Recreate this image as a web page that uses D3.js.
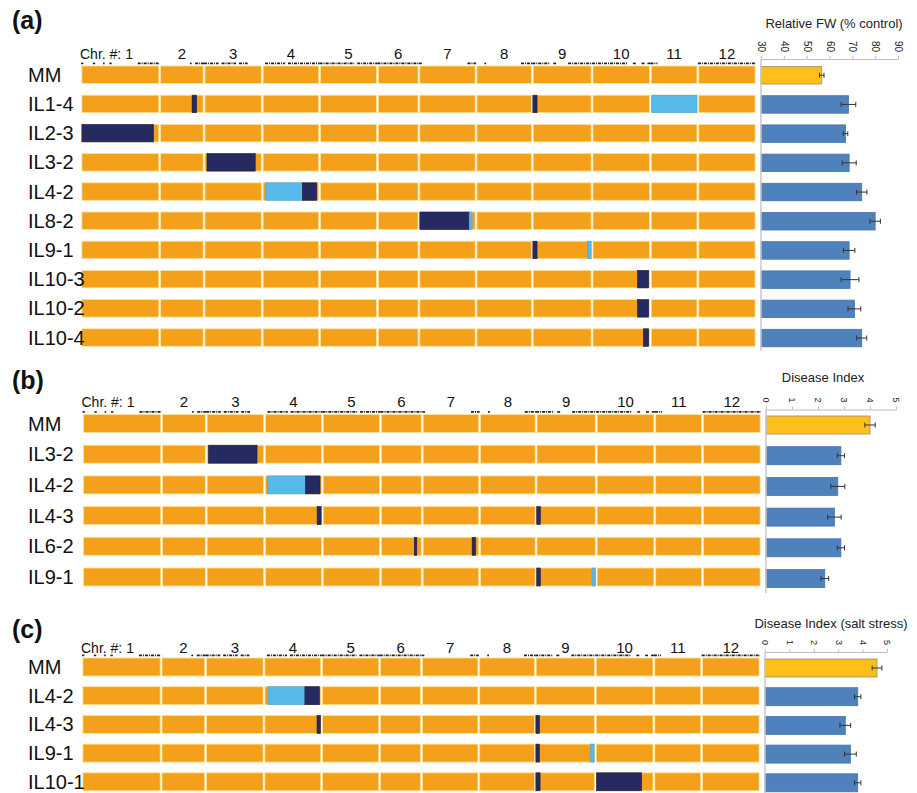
<!DOCTYPE html>
<html>
<head>
<meta charset="utf-8">
<script src="https://cdn.jsdelivr.net/npm/d3@7"></script>
<style>
  body { margin: 0; background: #fff; }
  svg { display: block; font-family: Arial, "Liberation Sans", sans-serif; }
</style>
</head>
<body>
<svg width="917" height="793"></svg>
<script>
  // chromosomes (relative lengths)
  const chrNames = ["1", "2", "3", "4", "5", "6", "7", "8", "9", "10", "11", "12"];
  const chrLengths = [79, 44.5, 58.3, 57.6, 58, 41.7, 57.3, 56.4, 60, 58.5, 47.7, 58.3];
  // marker coverage: [chr, from, to] as fraction of chromosome
  const markers = [
    [1, 0, 0.03], [1, 0.15, 0.18], [1, 0.28, 0.3], [1, 0.36, 0.39], [1, 0.72, 1],
    [2, 0.68, 0.72], [2, 0.8, 1],
    [3, 0, 0.25], [3, 0.3, 0.55], [3, 0.6, 0.75],
    [4, 0.05, 0.4], [4, 0.45, 1],
    [5, 0, 0.6], [5, 0.65, 1],
    [6, 0, 1],
    [7, 0, 0.05], [7, 0.85, 1],
    [8, 0.15, 0.18], [8, 0.8, 1],
    [9, 0, 0.3], [9, 0.35, 0.4], [9, 0.6, 1],
    [10, 0, 0.6], [10, 0.7, 0.75], [10, 0.85, 0.9], [10, 0.95, 1],
    [11, 0, 0.15],
    [12, 0, 1]
  ];

  // (a) relative fresh weight
  const linesA = ["MM", "IL1-4", "IL2-3", "IL3-2", "IL4-2", "IL8-2", "IL9-1", "IL10-3", "IL10-2", "IL10-4"];
  const fwMean = [56.6, 68.3, 67, 68.6, 74.1, 80, 68.6, 69, 70.9, 74.1];
  const fwErr = [1, 3.2, 1, 3.1, 2.3, 2.3, 2.5, 3.9, 2.8, 2.2];
  const fwTicks = [30, 40, 50, 60, 70, 80, 90];
  // introgressions: [chr, from, to, type] (d = dark, l = light)
  const segA = [
    [],
    [[2, 0.73, 0.83, "d"], [9, 0.01, 0.08, "d"], [11, 0.03, 1, "l"]],
    [[1, 0, 0.92, "d"]],
    [[3, 0.05, 0.88, "d"]],
    [[4, 0.06, 0.7, "l"], [4, 0.7, 0.95, "d"]],
    [[7, 0, 0.88, "d"], [7, 0.88, 0.93, "l"]],
    [[9, 0.01, 0.08, "d"], [9, 0.92, 1, "l"]],
    [[10, 0.78, 0.97, "d"]],
    [[10, 0.78, 0.97, "d"]],
    [[10, 0.88, 0.97, "d"]]
  ];

  // (b) disease index
  const linesB = ["MM", "IL3-2", "IL4-2", "IL4-3", "IL6-2", "IL9-1"];
  const diMean = [4.0, 2.88, 2.76, 2.63, 2.88, 2.26];
  const diErr = [0.2, 0.14, 0.27, 0.26, 0.14, 0.15];
  const diTicks = [0, 1, 2, 3, 4, 5];
  const segB = [
    [],
    [[3, 0.04, 0.87, "d"]],
    [[4, 0.05, 0.71, "l"], [4, 0.71, 0.96, "d"]],
    [[4, 0.91, 0.98, "d"], [9, 0.01, 0.07, "d"]],
    [[6, 0.81, 0.87, "d"], [7, 0.87, 0.93, "d"]],
    [[9, 0.01, 0.07, "d"], [9, 0.93, 0.99, "l"]]
  ];

  // (c) disease index under salt stress
  const linesC = ["MM", "IL4-2", "IL4-3", "IL9-1", "IL10-1"];
  const dsMean = [4.59, 3.8, 3.29, 3.5, 3.8];
  const dsErr = [0.2, 0.13, 0.22, 0.24, 0.13];
  const dsTicks = [0, 1, 2, 3, 4, 5];
  const segC = [
    [],
    [[4, 0.07, 0.71, "l"], [4, 0.71, 0.96, "d"]],
    [[4, 0.92, 0.98, "d"], [9, 0.01, 0.07, "d"]],
    [[9, 0.01, 0.07, "d"], [9, 0.92, 0.98, "l"]],
    [[9, 0.01, 0.08, "d"], [10, 0.02, 0.79, "d"]]
  ];

  const svg = d3.select("svg");
  const orange = "#F5A01A", navy = "#252B60", light = "#55B9E9";
  const chrStart = d3.cumsum([0, ...chrLengths]);
  const genome = d3.sum(chrLengths);

  function drawPanel(p) {
    const g = svg.append("g");
    const xs = d3.scaleLinear().domain([0, genome]).range(p.track);
    const pos = (c, f) => chrStart[c - 1] + f * chrLengths[c - 1];
    const rowY = i => p.top + i * p.pitch;

    g.append("text").attr("x", 12).attr("y", p.labelY)
      .attr("font-size", 25).attr("font-weight", "bold").attr("fill", "#111").text(p.tag);

    // chromosome numbers
    g.selectAll(".chrlab").data(chrNames).enter().append("text")
      .attr("x", (d, i) => i === 0 ? p.track[0] - 1 : xs(chrStart[i] + chrLengths[i] / 2))
      .attr("y", p.chrY)
      .attr("text-anchor", (d, i) => i === 0 ? "start" : "middle")
      .attr("font-size", (d, i) => i === 0 ? 14 : 15)
      .attr("fill", "#111")
      .text((d, i) => i === 0 ? "Chr. #: " + d : d);

    // marker coverage track
    g.selectAll(".mk").data(markers).enter().append("line")
      .attr("x1", d => xs(pos(d[0], d[1])))
      .attr("x2", d => Math.max(xs(pos(d[0], d[1])) + 1, xs(pos(d[0], d[2]))))
      .attr("y1", p.top - 2.6).attr("y2", p.top - 2.6)
      .attr("stroke", "#222").attr("stroke-width", 1.6)
      .attr("stroke-dasharray", "3,1,1,1");

    p.lines.forEach((name, i) => {
      const y = rowY(i);

      g.selectAll(null).data(chrLengths).enter().append("rect")
        .attr("x", (d, k) => xs(chrStart[k]) + 0.9)
        .attr("width", (d, k) => xs(chrStart[k + 1]) - xs(chrStart[k]) - 1.8)
        .attr("y", y).attr("height", p.barH)
        .attr("fill", orange).attr("stroke", "#FBE39A").attr("stroke-width", 0.8);

      g.selectAll(null).data(p.segs[i]).enter().append("rect")
        .attr("x", d => xs(pos(d[0], d[1])) + (d[1] === 0 ? 0.9 : 0))
        .attr("width", d => xs(pos(d[0], d[2])) - xs(pos(d[0], d[1])) - (d[1] === 0 ? 0.9 : 0) - (d[2] === 1 ? 0.9 : 0))
        .attr("y", y).attr("height", p.barH)
        .attr("fill", d => d[3] === "d" ? navy : light)
        .attr("stroke", d => d[3] === "d" ? "#1a1f45" : "#4aa8d6").attr("stroke-width", 0.6);

      g.append("text").attr("x", 28).attr("y", y + p.barH / 2 + 7)
        .attr("font-size", 20).attr("fill", "#111").text(name);
    });

    // bar chart
    const x = d3.scaleLinear().domain(p.domain).range(p.chart);
    const axis = g.append("g").attr("transform", `translate(0,${p.axisY})`)
      .call(d3.axisTop(x).tickValues(p.ticks).tickFormat(d3.format("d")).tickSize(3).tickSizeOuter(0));
    axis.select(".domain").attr("stroke", "#BFBFBF");
    axis.selectAll(".tick line").attr("stroke", "#BFBFBF");
    axis.selectAll(".tick text")
      .attr("font-family", "Arial, 'Liberation Sans', sans-serif")
      .attr("font-size", p.tickFont).attr("fill", "#222")
      .attr("text-anchor", "end")
      .attr("transform", "translate(0,-7) rotate(90)")
      .attr("x", 0).attr("y", 0).attr("dy", "0.35em");

    g.append("text").attr("x", p.titleX).attr("y", p.titleY)
      .attr("text-anchor", "middle").attr("font-size", 13).attr("fill", "#222").text(p.title);

    g.selectAll(".bar").data(p.mean).enter().append("rect")
      .attr("x", x(p.domain[0]))
      .attr("y", (d, i) => rowY(i) + p.chartOff)
      .attr("width", d => x(d) - x(p.domain[0]))
      .attr("height", p.barH)
      .attr("fill", (d, i) => i === 0 ? "#FDC01A" : "#4F81BD")
      .attr("stroke", (d, i) => i === 0 ? "#9a8f70" : "#4674aa").attr("stroke-width", 0.8);

    const eb = g.selectAll(".err").data(p.mean).enter().append("g")
      .attr("stroke", "#333").attr("stroke-width", 1);
    eb.append("line")
      .attr("x1", (d, i) => x(d - p.err[i])).attr("x2", (d, i) => x(d + p.err[i]))
      .attr("y1", (d, i) => rowY(i) + p.chartOff + p.barH / 2)
      .attr("y2", (d, i) => rowY(i) + p.chartOff + p.barH / 2);
    [-1, 1].forEach(s => {
      eb.append("line")
        .attr("x1", (d, i) => x(d + s * p.err[i])).attr("x2", (d, i) => x(d + s * p.err[i]))
        .attr("y1", (d, i) => rowY(i) + p.chartOff + p.barH / 2 - 2.5)
        .attr("y2", (d, i) => rowY(i) + p.chartOff + p.barH / 2 + 2.5);
    });

    g.append("line").attr("x1", x(p.domain[0])).attr("x2", x(p.domain[0]))
      .attr("y1", p.axisY).attr("y2", p.axisEnd)
      .attr("stroke", "#C8C8C8").attr("stroke-width", 1.5);
  }

  drawPanel({
    tag: "(a)", labelY: 29, track: [81, 756], top: 66, pitch: 29.2, barH: 17.5, chrY: 59,
    lines: linesA, segs: segA, mean: fwMean, err: fwErr, ticks: fwTicks, domain: [30, 90],
    chart: [761, 898], axisY: 59, axisEnd: 351, chartOff: 0.5, tickFont: 10,
    title: "Relative FW (% control)", titleX: 834, titleY: 28
  });
  drawPanel({
    tag: "(b)", labelY: 389, track: [82.5, 761], top: 414.5, pitch: 30.7, barH: 18, chrY: 406.5,
    lines: linesB, segs: segB, mean: diMean, err: diErr, ticks: diTicks, domain: [0, 5],
    chart: [766, 896], axisY: 409.5, axisEnd: 593, chartOff: 1.5, tickFont: 9,
    title: "Disease Index", titleX: 823, titleY: 381.5
  });
  drawPanel({
    tag: "(c)", labelY: 638, track: [82, 760], top: 658, pitch: 28.7, barH: 18, chrY: 652.5,
    lines: linesC, segs: segC, mean: dsMean, err: dsErr, ticks: dsTicks, domain: [0, 5],
    chart: [765, 887], axisY: 652, axisEnd: 793, chartOff: 1, tickFont: 9,
    title: "Disease Index (salt stress)", titleX: 831, titleY: 628
  });
</script>
</body>
</html>
